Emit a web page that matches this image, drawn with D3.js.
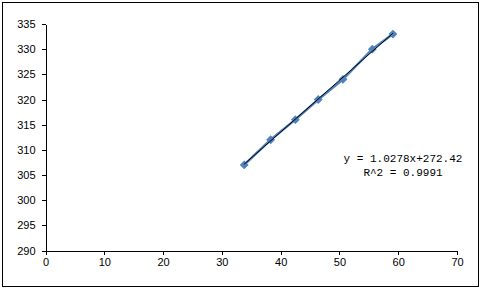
<html>
    <head>
        <style>
        body { margin: 0; background: #fff; }
        svg { display: block; }
        .axis text { font-family: "Liberation Sans", Arial, sans-serif; font-size: 11px; fill: #000; }
        .axis line, .axis path { stroke: #000; shape-rendering: crispEdges; }
        .eq { font-family: "Liberation Mono", monospace; font-size: 11px; fill: #000; }
        </style>
    </head>
    <body>
        <svg width="480" height="288"></svg>
        <script src="https://d3js.org/d3.v7.min.js"></script>
        <script>

            // measured points
            let xValues = [33.8, 38.3, 42.5, 46.4, 50.6, 55.6, 59.1]
            let yValues = [307, 312, 316, 320, 324, 330, 333]

            // trendline
            let slope = 1.0278
            let intercept = 272.42
            let eqLabels = ["y = 1.0278x+272.42", "R^2 = 0.9991"]

            let xTicks = [0, 10, 20, 30, 40, 50, 60, 70]
            let yTicks = [290, 295, 300, 305, 310, 315, 320, 325, 330, 335]

            let width = 480
            let height = 288
            let margin = {top: 24, right: 23, bottom: 37.5, left: 45.5}

            let svg = d3.select("svg")

            svg.append("rect")
                .attr("x", 2.5).attr("y", 2.5)
                .attr("width", 476).attr("height", 284)
                .attr("fill", "none").attr("stroke", "#000")

            let x = d3.scaleLinear()
                .domain([0, 70])
                .range([margin.left, width - margin.right])

            let y = d3.scaleLinear()
                .domain([290, 335])
                .range([height - margin.bottom, margin.top])

            svg.append("g")
                .attr("class", "x axis")
                .attr("transform", `translate(0, ${y(290)})`)
                .call(d3.axisBottom(x).tickValues(xTicks).tickSize(4).tickSizeOuter(0).tickPadding(4))

            svg.append("g")
                .attr("class", "y axis")
                .attr("transform", `translate(${x(0)}, 0)`)
                .call(d3.axisLeft(y).tickValues(yTicks).tickSize(4).tickSizeOuter(0).tickPadding(6))

            let data = xValues.map((v, i) => ({x: v, y: yValues[i]}))

            // blue connecting line
            svg.append("path")
                .datum(data)
                .attr("fill", "none")
                .attr("stroke", "#4F81BD")
                .attr("stroke-width", 2.5)
                .attr("d", d3.line().x(d => x(d.x)).y(d => y(d.y)))

            // markers
            svg.append("g")
                .selectAll("path")
                .data(data)
                .join("path")
                .attr("transform", d => `translate(${x(d.x)}, ${y(d.y)})`)
                .attr("d", d3.symbol().type(d3.symbolDiamond2).size(50))
                .attr("fill", "#4F81BD")

            // linear trendline
            let xMin = d3.min(xValues), xMax = d3.max(xValues)
            svg.append("line")
                .attr("x1", x(xMin)).attr("y1", y(slope * xMin + intercept))
                .attr("x2", x(xMax)).attr("y2", y(slope * xMax + intercept))
                .attr("stroke", "#000")
                .attr("stroke-width", 1)

            svg.append("g")
                .selectAll("text")
                .data(eqLabels)
                .join("text")
                .attr("class", "eq")
                .attr("x", 403)
                .attr("y", (d, i) => 162 + i * 14)
                .attr("text-anchor", "middle")
                .text(d => d)

        </script>
    </body>
</html>
